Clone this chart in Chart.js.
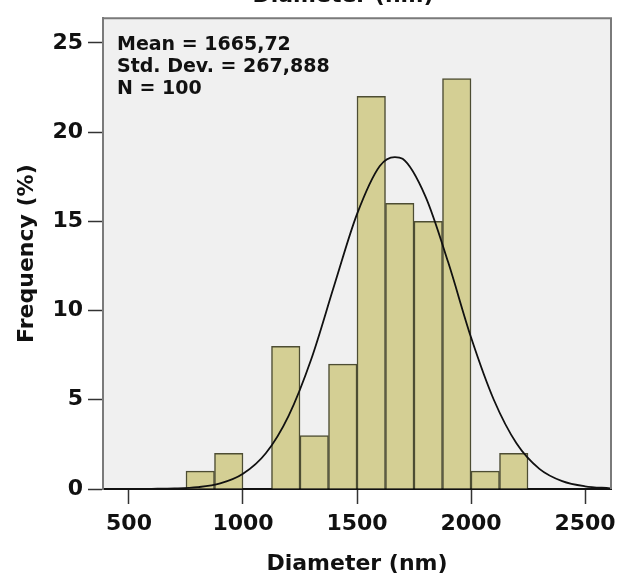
<!DOCTYPE html>
<html lang="en">
  <head>
    <meta charset="UTF-8" />
    <title>Diameter histogram</title>
    <style>
      * {
        margin: 0;
        padding: 0;
      }
      body {
        background: white;
      }
      .chartBox {
        width: 628px;
        height: 583px;
        position: relative;
      }
    </style>
  </head>
  <body>
    <div class="chartBox">
      <canvas id="myChart"></canvas>
    </div>

    <script src="https://cdn.jsdelivr.net/npm/chart.js"></script>
    <script>
      // histogram bins (centre of each 125 nm bin) and frequency in %
      const binCenters = [812.5, 937.5, 1062.5, 1187.5, 1312.5, 1437.5, 1562.5, 1687.5, 1812.5, 1937.5, 2062.5, 2187.5];
      const frequencies = [1, 2, 0, 8, 3, 7, 22, 16, 15, 23, 1, 2];

      // normal curve
      const curveX = [390, 500, 600, 700, 800, 900, 1000, 1100, 1200, 1300, 1400, 1500, 1600, 1666, 1700, 1800, 1900, 2000, 2100, 2200, 2300, 2400, 2500, 2610];
      const curveY = [0, 0, 0.01, 0.03, 0.1, 0.31, 0.85, 2.0, 4.1, 7.3, 11.4, 15.4, 18.1, 18.6, 18.5, 16.4, 12.7, 8.5, 5.0, 2.55, 1.13, 0.44, 0.15, 0.04];

      const xTicks = [500, 1000, 1500, 2000, 2500];
      const yTicks = [0, 5, 10, 15, 20, 25];

      const statsLines = ["Mean = 1665,72", "Std. Dev. = 267,888", "N = 100"];
      const topTitle = "Diameter (nm)";

      const FONT = "'DejaVu Sans', sans-serif";

      const plotFrame = {
        id: "plotFrame",
        beforeDraw(chart) {
          const { ctx, chartArea: a } = chart;
          ctx.save();
          ctx.fillStyle = "#f0f0f0";
          ctx.fillRect(a.left, a.top, a.right - a.left, a.bottom - a.top);
          ctx.restore();
        },
        afterDraw(chart) {
          const { ctx, chartArea: a } = chart;
          ctx.save();
          ctx.strokeStyle = "#7a7a7a";
          ctx.lineWidth = 2;
          ctx.beginPath();
          ctx.moveTo(a.left, a.top);
          ctx.lineTo(a.right, a.top);
          ctx.lineTo(a.right, a.bottom);
          ctx.stroke();

          // cut-off title above the plot
          ctx.fillStyle = "#111";
          ctx.font = "bold 22px " + FONT;
          ctx.textAlign = "center";
          ctx.textBaseline = "alphabetic";
          ctx.fillText(topTitle, 343, 2);

          // statistics box text
          ctx.font = "bold 19px " + FONT;
          ctx.textAlign = "left";
          statsLines.forEach((line, i) => {
            ctx.fillText(line, a.left + 14, 50 + i * 22);
          });
          ctx.restore();
        },
      };

      const ctx = document.getElementById("myChart");
      const myChart = new Chart(ctx, {
        type: "bar",
        data: {
          datasets: [
            {
              type: "line",
              data: curveX.map((x, i) => ({ x: x, y: curveY[i] })),
              borderColor: "#111",
              borderWidth: 1.8,
              pointRadius: 0,
              cubicInterpolationMode: "monotone",
              fill: false,
              order: 0,
            },
            {
              type: "bar",
              data: binCenters.map((x, i) => ({ x: x, y: frequencies[i] })),
              backgroundColor: "#d4cf94",
              borderColor: "#4d4d33",
              borderWidth: 1.5,
              barPercentage: 1,
              categoryPercentage: 1,
              grouped: false,
              order: 1,
            },
          ],
        },
        options: {
          responsive: true,
          maintainAspectRatio: false,
          animation: false,
          layout: { padding: { left: 0, right: 17, top: 12, bottom: 0 } },
          plugins: {
            legend: { display: false },
            tooltip: { enabled: false },
          },
          scales: {
            x: {
              type: "linear",
              offset: false,
              min: 386,
              max: 2614,
              afterBuildTicks: (scale) => {
                scale.ticks = xTicks.map((v) => ({ value: v }));
              },
              afterFit: (scale) => {
                scale.height = 94;
              },
              grid: {
                offset: false,
                drawOnChartArea: false,
                drawTicks: true,
                tickLength: 15,
                tickWidth: 1.5,
                tickColor: "#333",
              },
              border: { color: "#111", width: 2 },
              ticks: {
                padding: 7,
                color: "#111",
                font: { family: FONT, size: 22, weight: "bold" },
                maxRotation: 0,
                callback: (value) => String(value),
              },
              title: {
                display: true,
                text: "Diameter (nm)",
                color: "#111",
                font: { family: FONT, size: 22, weight: "bold" },
                padding: { top: 0, bottom: 6 },
              },
            },
            y: {
              min: 0,
              max: 26.38,
              afterBuildTicks: (scale) => {
                scale.ticks = yTicks.map((v) => ({ value: v }));
              },
              afterFit: (scale) => {
                scale.width = 103;
              },
              grid: {
                drawOnChartArea: false,
                drawTicks: true,
                tickLength: 15,
                tickWidth: 1.5,
                tickColor: "#333",
              },
              border: { color: "#7a7a7a", width: 2 },
              ticks: {
                padding: 5,
                color: "#111",
                font: { family: FONT, size: 22, weight: "bold" },
              },
              title: {
                display: true,
                text: "Frequency (%)",
                color: "#111",
                font: { family: FONT, size: 22, weight: "bold" },
                padding: { top: 14, bottom: 0 },
              },
            },
          },
        },
        plugins: [plotFrame],
      });
    </script>
  </body>
</html>
